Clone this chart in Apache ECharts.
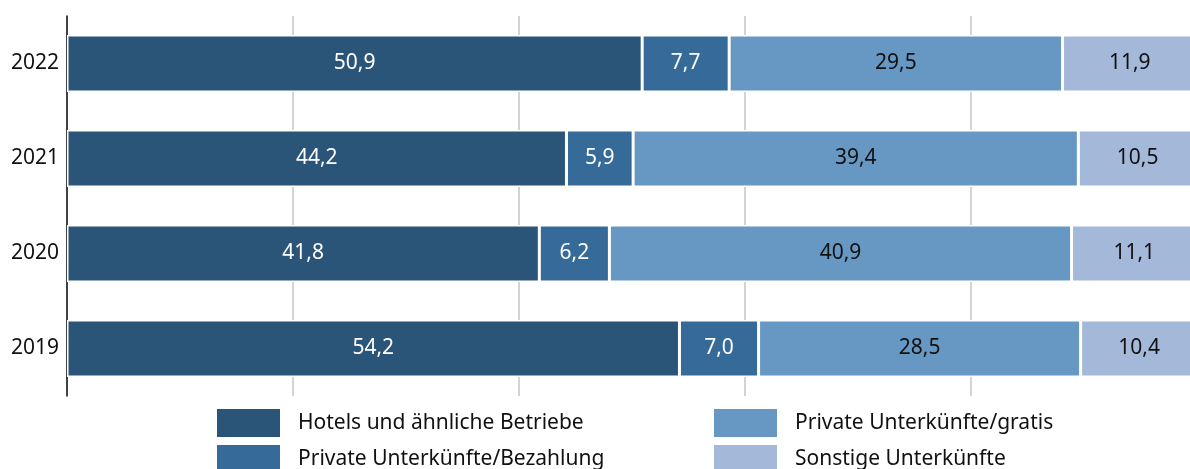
<!DOCTYPE html>
<html>
<head>
<meta charset="utf-8">
<script src="https://cdn.jsdelivr.net/npm/echarts@6/dist/echarts.min.js"></script>
<style>
  html, body { margin: 0; padding: 0; background: #fff; overflow: hidden; }
  #chart { width: 1200px; height: 469px; }
</style>
</head>
<body>
<div id="chart"></div>
<script>
// Data (shares in %, bottom to top)
const years = ['2019', '2020', '2021', '2022'];
const seriesNames = [
  'Hotels und ähnliche Betriebe',
  'Private Unterkünfte/Bezahlung',
  'Private Unterkünfte/gratis',
  'Sonstige Unterkünfte'
];
const hotels = [54.2, 41.8, 44.2, 50.9];
const privatPaid = [7.0, 6.2, 5.9, 7.7];
const privatFree = [28.5, 40.9, 39.4, 29.5];
const other = [10.4, 11.1, 10.5, 11.9];

const values = [hotels, privatPaid, privatFree, other];
const colors = ['#2a5579', '#366a98', '#6698c3', '#a4b9da'];
const labelColors = ['#ffffff', '#ffffff', '#111111', '#111111'];
const font = 'Noto Sans';

const chart = echarts.init(document.getElementById('chart'));

const legendBase = {
  orient: 'vertical',
  top: 407,
  height: 80,
  padding: 0,
  itemWidth: 65,
  itemHeight: 30,
  itemGap: 4,
  icon: 'rect',
  selectedMode: false,
  textStyle: { fontFamily: font, fontSize: 21, color: '#111', padding: [0, 0, 0, 12] }
};

chart.setOption({
  animation: false,
  textStyle: { fontFamily: font },
  grid: { left: 67, right: 3, top: 16, height: 380 },
  legend: [
    { ...legendBase, left: 215, data: seriesNames.slice(0, 2) },
    { ...legendBase, left: 712, data: seriesNames.slice(2, 4) }
  ],
  xAxis: {
    type: 'value',
    min: 0,
    max: 100,
    interval: 20,
    axisLabel: { show: false },
    axisLine: { show: false },
    axisTick: { show: false },
    splitLine: { show: true, lineStyle: { color: '#d4d4d4', width: 2 } }
  },
  yAxis: {
    type: 'category',
    data: years,
    axisLine: { show: true, lineStyle: { color: '#111', width: 1.5 } },
    axisTick: { show: false },
    axisLabel: { fontFamily: font, fontSize: 21, color: '#111', margin: 8 }
  },
  series: seriesNames.map((name, i) => ({
    name,
    type: 'bar',
    stack: 'total',
    barWidth: 57,
    data: values[i],
    itemStyle: { color: colors[i], borderColor: '#ffffff', borderWidth: 1.5 },
    label: {
      show: true,
      position: 'inside',
      fontFamily: font,
      fontSize: 21,
      color: labelColors[i],
      formatter: p => p.value.toFixed(1).replace('.', ',')
    }
  }))
});
</script>
</body>
</html>
